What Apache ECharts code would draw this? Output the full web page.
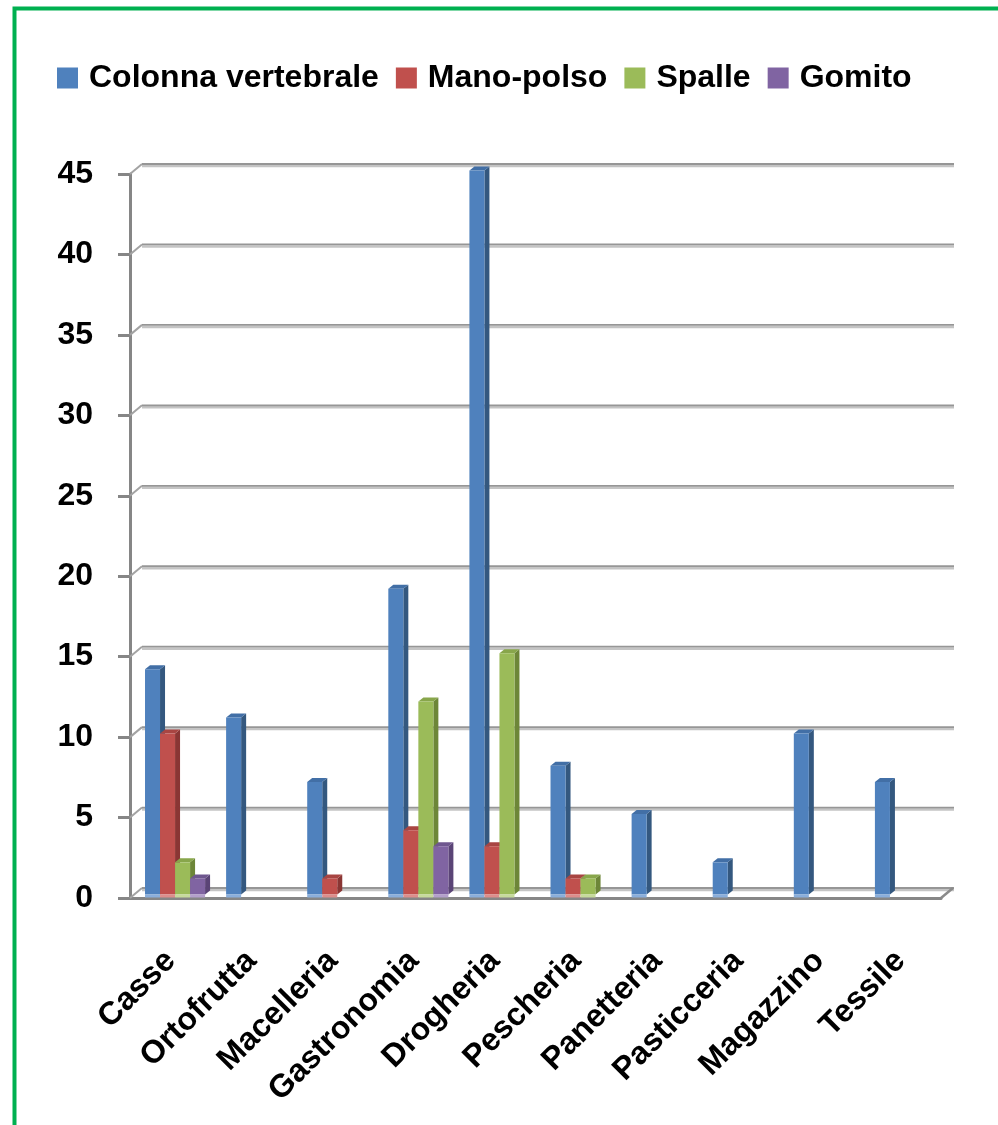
<!DOCTYPE html>
<html>
<head>
<meta charset="utf-8">
<script src="https://cdn.jsdelivr.net/npm/echarts@6/dist/echarts.min.js"></script>
<style>
html,body{margin:0;padding:0;background:#fff;}
#chart{width:998px;height:1125px;}
</style>
</head>
<body>
<div id="chart"></div>
<script>
const categories = ['Casse','Ortofrutta','Macelleria','Gastronomia','Drogheria','Pescheria','Panetteria','Pasticceria','Magazzino','Tessile'];
const seriesNames = ['Colonna vertebrale','Mano-polso','Spalle','Gomito'];
const colonnaVertebrale = [14, 11, 7, 19, 45, 8, 5, 2, 10, 7];
const manoPolso = [10, 0, 1, 4, 3, 1, 0, 0, 0, 0];
const spalle = [2, 0, 0, 12, 15, 1, 0, 0, 0, 0];
const gomito = [1, 0, 0, 3, 0, 0, 0, 0, 0, 0];
const yTicks = [0, 5, 10, 15, 20, 25, 30, 35, 40, 45];
const yMin = 0, yMax = 45, yStep = 5;

const palette = [
  {front:'#4f81bd', side:'#34587f', top:'#426fa6', base:'#8aaedb'},
  {front:'#c0504d', side:'#8a3634', top:'#a84542', base:'#dc8e8c'},
  {front:'#9bbb59', side:'#6d8638', top:'#88a64b', base:'#c6da9c'},
  {front:'#8064a2', side:'#5a4476', top:'#6f578f', base:'#b3a0cb'}
];
const values = [colonnaVertebrale, manoPolso, spalle, gomito];

const FONT = '"Liberation Sans", Arial, sans-serif';

function barRenderer(s) {
  return function (params, api) {
    const idx = api.value(0), v = api.value(1);
    if (!v) return null;
    const base = api.coord([idx, 0]);
    const top = api.coord([idx, v]);
    const band = api.size([1, 0])[0];
    const bw = band * 15 / 81;
    const ox = 4.5, oy = -3.5, dx = 5, dy = -4;
    const x0 = base[0] - 2 * bw + s * bw + ox;
    const yb = base[1] + oy, yt = top[1] + oy;
    const c = palette[s];
    return {
      type: 'group',
      children: [
        {type:'polygon', shape:{points:[[x0+bw,yt],[x0+bw+dx,yt+dy],[x0+bw+dx,yb+dy],[x0+bw,yb]]}, style:{fill:c.side}},
        {type:'polygon', shape:{points:[[x0,yt],[x0+bw,yt],[x0+bw+dx,yt+dy],[x0+dx,yt+dy]]}, style:{fill:c.top}},
        {type:'rect', shape:{x:x0, y:yt, width:bw, height:yb-yt}, style:{fill:c.front}},
        {type:'rect', shape:{x:x0, y:yb, width:bw, height:3}, style:{fill:c.base}}
      ]
    };
  };
}

function wallRenderer(params, api) {
  const v = api.value(1);
  const p = api.coord([0, v]);
  const cs = params.coordSys;
  const xL = cs.x, xR = cs.x + cs.width;
  const y = p[1];
  const wx = 12, wy = -10;
  const children = [
    {type:'line', shape:{x1:xL, y1:y, x2:xL+wx, y2:y+wy}, style:{stroke:'#a3a3a3', lineWidth:2}},
    {type:'line', shape:{x1:xL+wx, y1:y+wy+2, x2:xR+wx+1, y2:y+wy+2}, style:{stroke:'#c4c4c4', lineWidth:2.5}},
    {type:'line', shape:{x1:xL+wx, y1:y+wy, x2:xR+wx+1, y2:y+wy}, style:{stroke:'#969696', lineWidth:1.8}}
  ];
  if (v === yMin) {
    children.push({type:'line', shape:{x1:xR, y1:y, x2:xR+wx, y2:y+wy}, style:{stroke:'#8a8a8a', lineWidth:2.5}});
  }
  return {type:'group', children: children};
}

const chart = echarts.init(document.getElementById('chart'), null, {renderer:'canvas'});

const series = [{
  type: 'custom',
  name: 'wall',
  xAxisIndex: 0, yAxisIndex: 0,
  z: 1,
  silent: true,
  renderItem: wallRenderer,
  data: yTicks.map(v => [0, v])
}];
seriesNames.forEach((name, s) => {
  series.push({
    type: 'custom',
    name: name,
    xAxisIndex: 0, yAxisIndex: 0,
    z: 3 + s,
    itemStyle: {color: palette[s].front},
    renderItem: barRenderer(s),
    data: values[s].map((v, i) => [i, v])
  });
});

chart.setOption({
  animation: false,
  backgroundColor: '#ffffff',
  legend: {
    data: seriesNames,
    left: 57, top: 62, padding: 0,
    itemWidth: 21, itemHeight: 21, itemGap: 17,
    icon: 'rect',
    textStyle: {fontFamily: FONT, fontWeight: 'bold', fontSize: 32, color: '#000', padding: [0,0,0,6]}
  },
  grid: [
    {left: 130, right: 57, top: 174, bottom: 227}
  ],
  xAxis: [
    {
      type: 'category', gridIndex: 0, data: categories,
      axisLine: {lineStyle: {color: '#868686', width: 3}},
      axisTick: {length: 12, lineStyle: {color: '#868686', width: 3}},
      axisLabel: {rotate: 45, margin: 58, fontFamily: FONT, fontWeight: 'bold', fontSize: 32, color: '#000', interval: 0},
      splitLine: {show: false}
    }
  ],
  yAxis: [
    {
      type: 'value', gridIndex: 0, min: yMin, max: yMax, interval: yStep,
      axisLine: {show: true, lineStyle: {color: '#868686', width: 3}},
      axisTick: {show: true, length: 12, lineStyle: {color: '#868686', width: 3}},
      axisLabel: {margin: 37, fontFamily: FONT, fontWeight: 'bold', fontSize: 32, color: '#000'},
      splitLine: {show: false}
    }
  ],
  graphic: [
    {type: 'polyline', silent: true, z: 100,
     shape: {points: [[14.5, 1125], [14.5, 8.5], [998, 8.5]]},
     style: {stroke: '#00b050', lineWidth: 4, fill: null}}
  ],
  series: series
});
</script>
</body>
</html>
